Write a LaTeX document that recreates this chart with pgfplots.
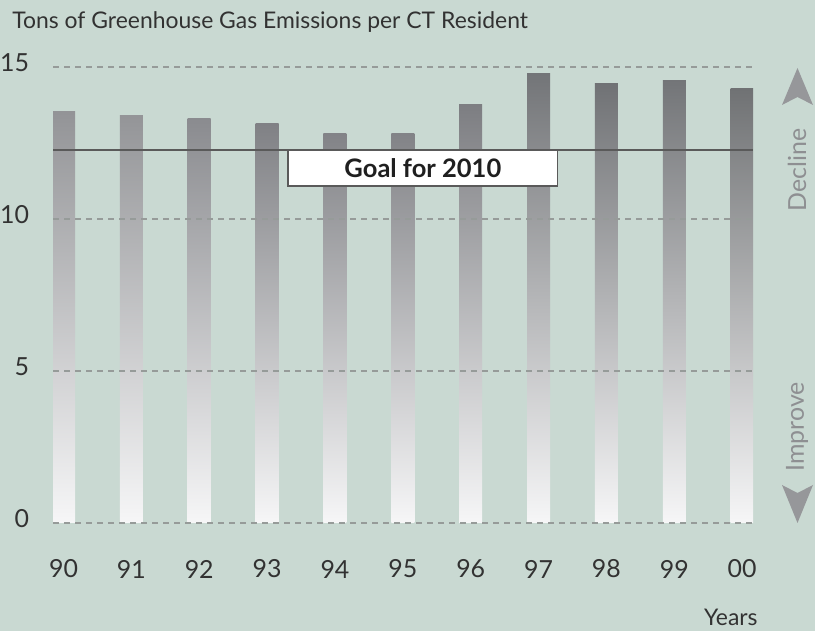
\documentclass[border=0pt]{standalone}
\usepackage{pgfplots}
\pgfplotsset{compat=1.18}
\usepackage{fontspec}
\setmainfont{Lato}
\definecolor{bg}{RGB}{201,217,210}
\definecolor{txt}{RGB}{50,50,50}
\definecolor{side}{RGB}{150,151,154}
\definecolor{sidetxt}{RGB}{142,143,146}
\definecolor{gridc}{RGB}{150,155,153}
\definecolor{goalc}{RGB}{90,90,90}
\definecolor{barbot}{RGB}{246,246,247}
\definecolor{ca}{RGB}{147,148,151}
\definecolor{cb}{RGB}{148,149,152}
\definecolor{cc}{RGB}{138,139,143}
\definecolor{cd}{RGB}{128,129,133}
\definecolor{ce}{RGB}{130,131,135}
\definecolor{cf}{RGB}{130,131,135}
\definecolor{cg}{RGB}{125,126,130}
\definecolor{ch}{RGB}{115,117,120}
\definecolor{ci}{RGB}{112,114,117}
\definecolor{cj}{RGB}{115,117,120}
\definecolor{ck}{RGB}{112,114,116}
\begin{document}
\begin{tikzpicture}[x=0.5bp,y=0.5bp]
\fill[bg] (0,0) rectangle (815,631);
\path[use as bounding box] (0,0) rectangle (815,631);
\begin{axis}[
  at={(26.5bp,54bp)}, anchor=south west,
  scale only axis, width=350bp, height=228bp,
  xmin=-0.155, xmax=10.16, ymin=0, ymax=15,
  axis line style={draw=none}, tick style={draw=none},
  axis on top,
  xtick={0,1,2,3,4,5,6,7,8,9,10},
  xticklabels={90,91,92,93,94,95,96,97,98,99,00},
  ytick={0,5,10,15},
  yticklabels={0,5,10,15},
  /pgf/number format/assume math mode=true,
  ticklabel style={font=\fontsize{12.5}{14}\selectfont, text=txt},
  xticklabel style={anchor=center, yshift=-23bp},
  yticklabel style={anchor=east, xshift=-8.5bp, yshift=2bp},
  ymajorgrids,
  grid style={gridc, line width=0.8bp, dash pattern=on 3bp off 2.5bp},
  mybar/.style={ybar, bar width=11.5bp, bar shift=0pt, draw=none, top color=#1, bottom color=barbot},
]
\addplot[mybar=ca] coordinates {(0,13.52)};
\addplot[mybar=cb] coordinates {(1,13.39)};
\addplot[mybar=cc] coordinates {(2,13.32)};
\addplot[mybar=cd] coordinates {(3,13.13)};
\addplot[mybar=ce] coordinates {(4,12.80)};
\addplot[mybar=cf] coordinates {(5,12.80)};
\addplot[mybar=cg] coordinates {(6,13.75)};
\addplot[mybar=ch] coordinates {(7,14.77)};
\addplot[mybar=ci] coordinates {(8,14.47)};
\addplot[mybar=cj] coordinates {(9,14.57)};
\addplot[mybar=ck] coordinates {(10,14.28)};
\addplot[goalc, line width=0.8bp, mark=none] coordinates {(-0.155,12.27) (10.16,12.27)};
\draw[fill=white, draw=goalc, line width=0.8bp] (axis cs:3.31,11.09) rectangle (axis cs:7.28,12.27);
\node[font=\fontsize{12.8}{14}\selectfont\bfseries, text=black!88] at (axis cs:5.295,11.68) {Goal for 2010};
\end{axis}
\node[anchor=base west, font=\fontsize{11.5}{14}\selectfont, text=txt, inner sep=0pt] at (12,602) {Tons of Greenhouse Gas Emissions per CT Resident};
\node[anchor=base east, font=\fontsize{11.5}{14}\selectfont, text=txt, inner sep=0pt] at (758,5) {Years};
% side indicators
\fill[side] (797.5,563) -- (813,526) -- (797.5,534) -- (782,526) -- cycle;
\fill[side] (797.5,108) -- (813,146) -- (797.5,138) -- (782,146) -- cycle;
\node[rotate=90, font=\fontsize{12.5}{14}\selectfont, text=sidetxt, inner sep=0pt] at (797,461) {Decline};
\node[rotate=90, font=\fontsize{12.5}{14}\selectfont, text=sidetxt, inner sep=0pt] at (797,204) {Improve};
\end{tikzpicture}
\end{document}
